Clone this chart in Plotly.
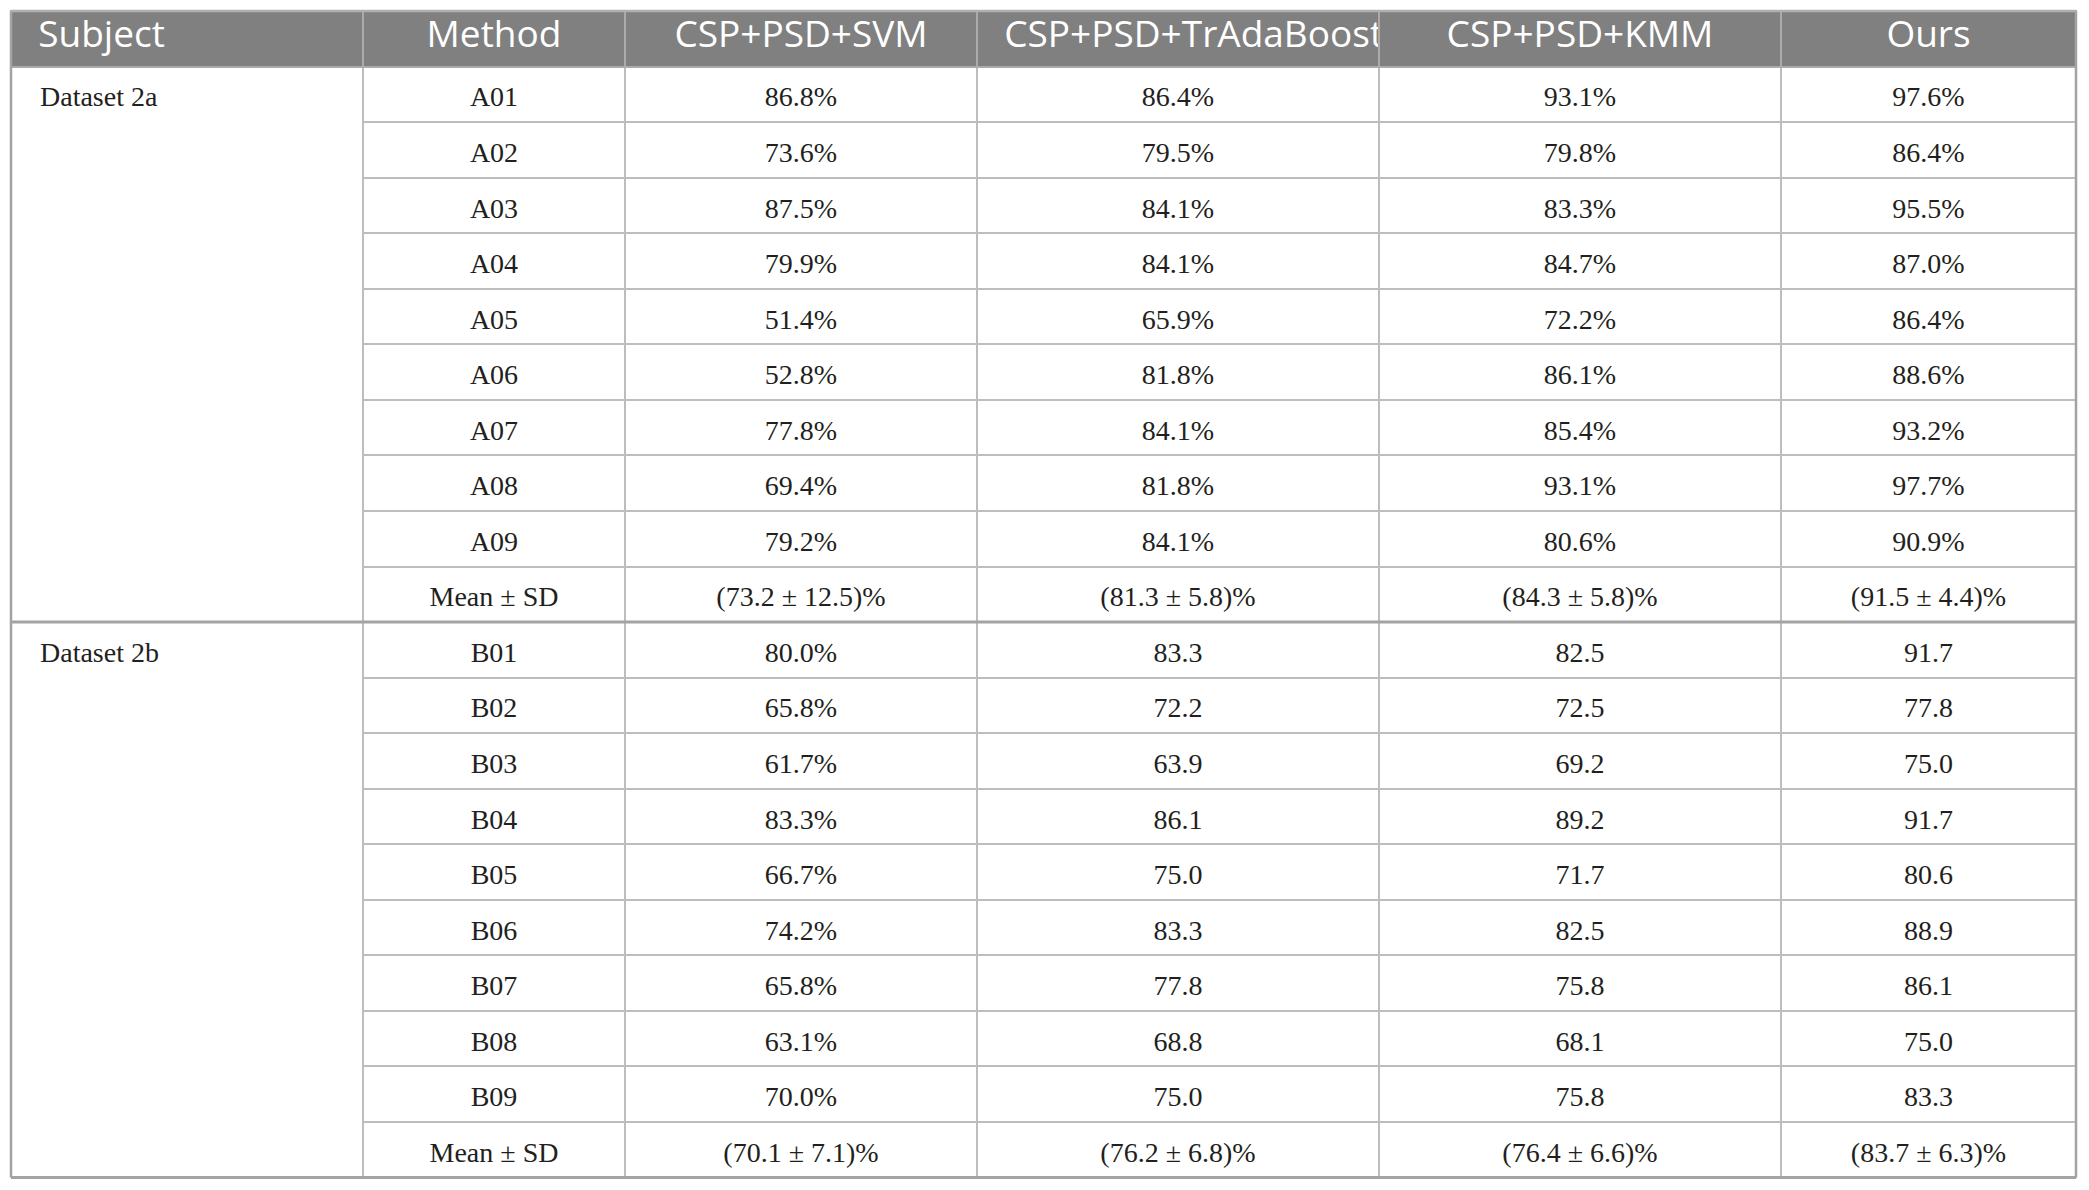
# accuracy table: CSP+PSD baselines vs ours on BCI IV 2a / 2b
import plotly.graph_objects as go

# column headers
header_labels = ["Subject", "Method", "CSP+PSD+SVM", "CSP+PSD+TrAdaBoost", "CSP+PSD+KMM", "Ours"]

# dataset 2a
subjects_2a = ["A01", "A02", "A03", "A04", "A05", "A06", "A07", "A08", "A09"]
svm_2a = [86.8, 73.6, 87.5, 79.9, 51.4, 52.8, 77.8, 69.4, 79.2]
tradaboost_2a = [86.4, 79.5, 84.1, 84.1, 65.9, 81.8, 84.1, 81.8, 84.1]
kmm_2a = [93.1, 79.8, 83.3, 84.7, 72.2, 86.1, 85.4, 93.1, 80.6]
ours_2a = [97.6, 86.4, 95.5, 87.0, 86.4, 88.6, 93.2, 97.7, 90.9]
mean_sd_2a = [(73.2, 12.5), (81.3, 5.8), (84.3, 5.8), (91.5, 4.4)]

# dataset 2b
subjects_2b = ["B01", "B02", "B03", "B04", "B05", "B06", "B07", "B08", "B09"]
svm_2b = [80.0, 65.8, 61.7, 83.3, 66.7, 74.2, 65.8, 63.1, 70.0]
tradaboost_2b = [83.3, 72.2, 63.9, 86.1, 75.0, 83.3, 77.8, 68.8, 75.0]
kmm_2b = [82.5, 72.5, 69.2, 89.2, 71.7, 82.5, 75.8, 68.1, 75.8]
ours_2b = [91.7, 77.8, 75.0, 91.7, 80.6, 88.9, 86.1, 75.0, 83.3]
mean_sd_2b = [(70.1, 7.1), (76.2, 6.8), (76.4, 6.6), (83.7, 6.3)]


def pct(vals):
    return ["%.1f%%" % v for v in vals]


def plain(vals):
    return ["%.1f" % v for v in vals]


def msd(pair):
    return "(%.1f \u00b1 %.1f)%%" % pair


NB = "\u00a0"
BODY_SIZE = 28


# plotly pins cell text to the top of the row; a blank first line in a small
# base font pushes the real text down towards the middle of the row
def body(s):
    return NB + "<br><span style=\"font-size:%dpx\">%s</span>" % (BODY_SIZE, s) if s else ""


n_a = len(subjects_2a) + 1
n_b = len(subjects_2b) + 1

col_subject = [NB * 3 + "Dataset 2a"] + [""] * (n_a - 1) + [NB * 3 + "Dataset 2b"] + [""] * (n_b - 1)
col_method = subjects_2a + ["Mean \u00b1 SD"] + subjects_2b + ["Mean \u00b1 SD"]
col_svm = pct(svm_2a) + [msd(mean_sd_2a[0])] + pct(svm_2b) + [msd(mean_sd_2b[0])]
col_tr = pct(tradaboost_2a) + [msd(mean_sd_2a[1])] + plain(tradaboost_2b) + [msd(mean_sd_2b[1])]
col_kmm = pct(kmm_2a) + [msd(mean_sd_2a[2])] + plain(kmm_2b) + [msd(mean_sd_2b[2])]
col_ours = pct(ours_2a) + [msd(mean_sd_2a[3])] + plain(ours_2b) + [msd(mean_sd_2b[3])]

columns = [col_subject, col_method, col_svm, col_tr, col_kmm, col_ours]
columns = [[body(s) for s in col] for col in columns]

n_rows = n_a + n_b
row_h = 55.55
grid = "#bdbdbd"
border = "#a3a3a3"

header_text = [NB * 2 + header_labels[0], header_labels[1], header_labels[2],
               NB * 2 + header_labels[3], header_labels[4], header_labels[5]]

fig = go.Figure()
fig.add_trace(go.Table(
    columnwidth=[352, 262, 352, 402, 402, 295],
    header=dict(
        values=header_text,
        align=["left", "center", "center", "left", "center", "center"],
        fill_color="#808080",
        line=dict(color="#ababab", width=2),
        font=dict(family="Open Sans", size=37, color="white"),
        height=row_h,
    ),
    cells=dict(
        values=columns,
        align=["left", "center", "center", "center", "center", "center"],
        fill_color="white",
        line=dict(color=[["rgba(0,0,0,0)"] * n_rows, grid, grid, grid, grid, grid], width=2),
        font=dict(family="Liberation Serif", size=14.5, color="#231f20"),
        height=row_h,
    ),
    domain=dict(x=[0, 1], y=[0, 1]),
))

W, H = 2073, 1174
m = dict(l=3, r=5, t=3, b=4)
total_h = H - m["t"] - m["b"]
sep_y = 1 - (1 + n_a) * row_h / total_h
bottom_y = 1 - (1 + n_rows) * row_h / total_h

fig.add_shape(type="line", xref="paper", yref="paper", x0=0, x1=0, y0=bottom_y, y1=1,
              line=dict(color=border, width=2.5))
fig.add_shape(type="line", xref="paper", yref="paper", x0=1, x1=1, y0=bottom_y, y1=1,
              line=dict(color=border, width=2.5))
fig.add_shape(type="line", xref="paper", yref="paper", x0=0, x1=1, y0=1, y1=1,
              line=dict(color="#b0b0b0", width=2.5))
fig.add_shape(type="line", xref="paper", yref="paper", x0=0, x1=1, y0=sep_y, y1=sep_y,
              line=dict(color=border, width=3))
fig.add_shape(type="line", xref="paper", yref="paper", x0=0, x1=1, y0=bottom_y, y1=bottom_y,
              line=dict(color=border, width=3))

fig.update_layout(
    width=W, height=H,
    margin=m,
    paper_bgcolor="white",
)

fig.write_html("out.html")
